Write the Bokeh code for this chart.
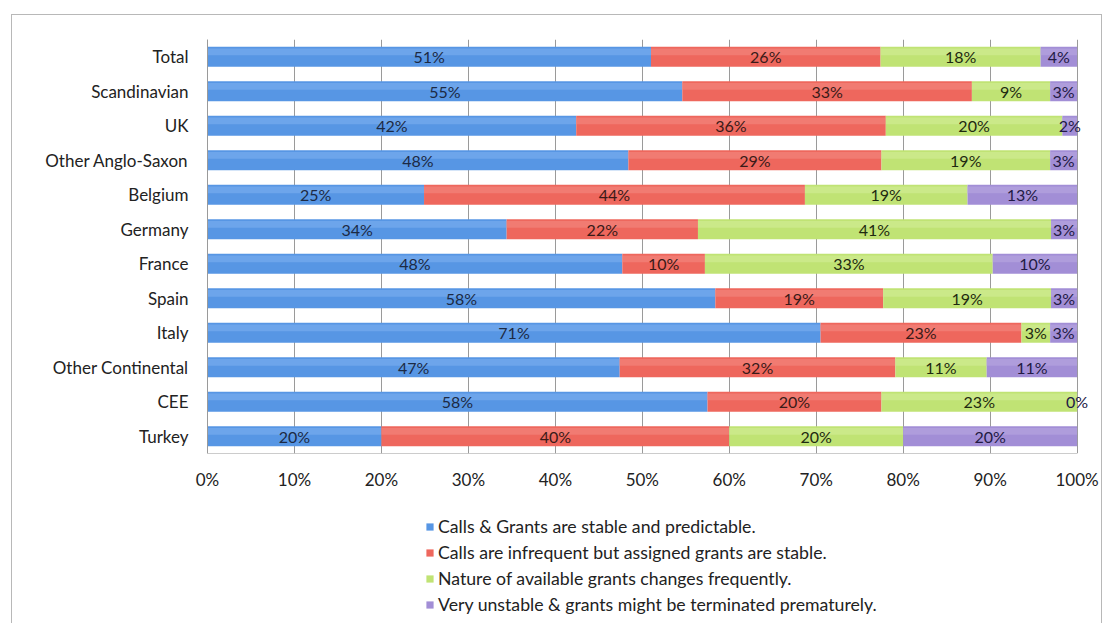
from bokeh.plotting import figure
from bokeh.layouts import column
from bokeh.models import (ColumnDataSource, FactorRange, Legend, LegendItem, FixedTicker,
                          CustomJSTickFormatter, LabelSet, Range1d)
from bokeh.core.properties import value
from bokeh.embed import file_html
from bokeh.resources import INLINE

categories = ["Total", "Scandinavian", "UK", "Other Anglo-Saxon", "Belgium", "Germany",
              "France", "Spain", "Italy", "Other Continental", "CEE", "Turkey"]

stable = [51.0, 54.6, 42.4, 48.4, 24.9, 34.4, 47.7, 58.4, 70.5, 47.4, 57.5, 20.0]
infrequent = [26.4, 33.3, 35.6, 29.1, 43.8, 22.0, 9.5, 19.3, 23.1, 31.7, 20.0, 40.0]
changing = [18.4, 9.0, 20.3, 19.4, 18.7, 40.6, 33.1, 19.3, 3.3, 10.5, 22.5, 20.0]
unstable = [4.2, 3.1, 1.7, 3.1, 12.6, 3.0, 9.7, 3.0, 3.1, 10.4, 0.0, 20.0]

stable_labels = ["51%", "55%", "42%", "48%", "25%", "34%", "48%", "58%", "71%", "47%", "58%", "20%"]
infrequent_labels = ["26%", "33%", "36%", "29%", "44%", "22%", "10%", "19%", "23%", "32%", "20%", "40%"]
changing_labels = ["18%", "9%", "20%", "19%", "19%", "41%", "33%", "19%", "3%", "11%", "23%", "20%"]
unstable_labels = ["4%", "3%", "2%", "3%", "13%", "3%", "10%", "3%", "3%", "11%", "0%", "20%"]

series_names = ["Calls & Grants are stable and predictable.",
                "Calls are infrequent but assigned grants are stable.",
                "Nature of available grants changes frequently.",
                "Very unstable & grants might be terminated prematurely."]
x_ticks = [0, 10, 20, 30, 40, 50, 60, 70, 80, 90, 100]

colors = ["#5796e4", "#ee675d", "#c0e374", "#a28ed6"]
highlight = ["#80b2f0", "#f48d84", "#d4ee9b", "#b9a9e2"]
text_colors = ["#1c2a44", "#3a1a18", "#1e2a10", "#221a44"]

FONT = "Lato"

# 0..100 spans 870px; the range is a little wider so that end labels are not cut
p = figure(width=1089, height=486, output_backend="svg", toolbar_location=None,
           y_range=FactorRange(factors=list(reversed(categories)), range_padding=0),
           x_range=Range1d(0, 102), min_border_left=195, min_border_top=24,
           min_border_right=7, min_border_bottom=48)

p.outline_line_color = None
p.background_fill_color = "white"
p.border_fill_color = "white"
p.ygrid.grid_line_color = None
p.xgrid.grid_line_color = "#9a9a9a"
p.xgrid.grid_line_width = 1
p.xaxis.ticker = FixedTicker(ticks=x_ticks)
p.xaxis.formatter = CustomJSTickFormatter(code="return tick + '%';")
p.xaxis.major_tick_line_color = None
p.xaxis.minor_tick_line_color = None
p.xaxis.axis_line_color = None
p.xaxis.major_label_standoff = 9
p.xaxis.major_label_text_font = FONT
p.xaxis.major_label_text_font_size = "17px"
p.xaxis.major_label_text_color = "#222222"
p.yaxis.major_tick_line_color = None
p.yaxis.minor_tick_line_color = None
p.yaxis.axis_line_color = "#9a9a9a"
p.yaxis.major_label_standoff = 13
p.yaxis.major_label_text_font = FONT
p.yaxis.major_label_text_font_size = "17px"
p.yaxis.major_label_text_color = "#222222"

# bottom axis line only across 0..100%
p.segment(x0=[x_ticks[0]], x1=[x_ticks[-1]], y0=[(categories[-1], -0.5)],
          y1=[(categories[-1], -0.5)], line_color="#9a9a9a", line_width=1)

series = [stable, infrequent, changing, unstable]
labels = [stable_labels, infrequent_labels, changing_labels, unstable_labels]

# legend figure: zero-height copies of the bars, only their legend swatches show
p2 = figure(width=1089, height=122, output_backend="svg", toolbar_location=None,
            x_range=Range1d(0, 102), y_range=FactorRange(factors=list(reversed(categories))),
            min_border_left=0, min_border_right=0, min_border_top=0, min_border_bottom=0)
p2.axis.visible = False
p2.grid.grid_line_color = None
p2.outline_line_color = None
p2.background_fill_color = "white"
p2.border_fill_color = "white"

lefts = [0.0] * len(categories)
items = []
for i, (vals, labs) in enumerate(zip(series, labels)):
    rights = [l + v for l, v in zip(lefts, vals)]
    src = ColumnDataSource(dict(
        y=categories, left=lefts, right=rights,
        ytop=[(c, 0.14) for c in categories],
        cx=[(l + r) / 2 for l, r in zip(lefts, rights)],
        lab=labs))
    p.hbar(y="y", left="left", right="right", height=0.58, source=src,
           fill_color=colors[i], line_color=None)
    p.hbar(y="ytop", left="left", right="right", height=0.2, source=src,
           fill_color=highlight[i], fill_alpha=0.55, line_color=None)
    p.add_layout(LabelSet(x="cx", y="y", text="lab", source=src, text_align="center",
                          text_baseline="middle", text_font=value(FONT),
                          text_font_size=value("16px"), text_color=text_colors[i]))
    dummy = p2.hbar(y="y", left="left", right="right", height=0, source=src,
                    fill_color=colors[i], line_color=None)
    items.append(LegendItem(label=series_names[i], renderers=[dummy]))
    lefts = rights

legend = Legend(items=items, orientation="vertical", location=(218, 8),
                label_text_font=FONT, label_text_font_size="17.7px",
                label_text_color="#222222", glyph_width=9, glyph_height=9,
                spacing=5, label_height=19, label_standoff=4,
                border_line_color=None, background_fill_alpha=0,
                padding=0, margin=0)
p2.add_layout(legend, "center")

layout = column(p, p2, spacing=0,
                styles={"border-top": "1px solid #b8b8b8", "border-left": "1px solid #b8b8b8",
                        "border-right": "1px solid #b8b8b8", "margin-left": "11px",
                        "margin-top": "14px"})

open("out.html", "w").write(file_html(layout, INLINE))
